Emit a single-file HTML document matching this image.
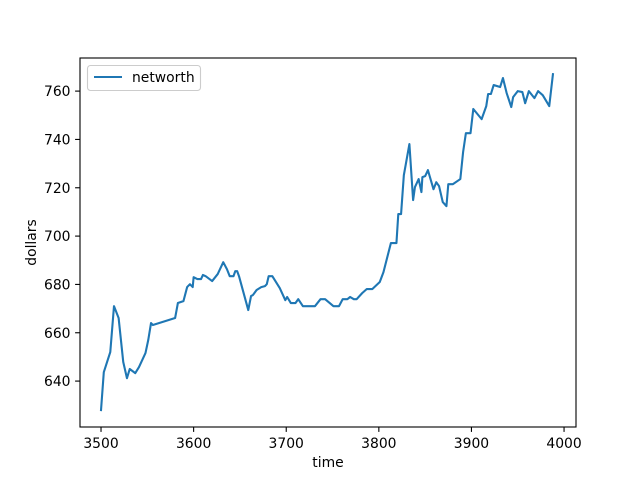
<!DOCTYPE html>
<html><head><meta charset="utf-8"><style>
body{margin:0;background:#fff;}
svg{display:block;font-family:"DejaVu Sans","Liberation Sans",sans-serif;}
</style></head><body>
<svg id="chart" width="640" height="480">
<rect width="640" height="480" fill="#fff"/>
<g id="plot"></g>
<g id="axes"></g>
</svg>
<script>
const times=[3500,3503,3510,3514,3519,3524,3528,3531,3537,3541,3548,3551,3554,3556,3580,3583,3589,3593,3596,3599,3600,3604,3608,3610,3613,3620,3626,3632,3636,3639,3643,3645,3647,3649,3659,3662,3664,3668,3673,3677,3679,3681,3685,3693,3699,3701,3705,3710,3713,3718,3731,3737,3742,3751,3757,3761,3766,3769,3773,3776,3782,3787,3793,3801,3805,3813,3819,3821,3824,3827,3833,3837,3839,3843,3846,3847,3850,3853,3859,3862,3865,3869,3873,3875,3880,3888,3891,3894,3899,3902,3911,3916,3918,3921,3924,3931,3934,3938,3943,3945,3950,3955,3958,3962,3968,3972,3977,3984,3988];
const networth=[628.0,643.7,652.0,671.0,666.1,647.9,641.2,645.0,643.3,645.8,651.6,657.0,664.0,663.2,666.1,672.3,673.1,678.9,680.1,678.9,683.0,682.2,682.2,683.9,683.4,681.4,684.3,689.2,686.3,683.4,683.4,685.5,685.5,683.4,669.4,675.2,675.6,677.7,678.9,679.3,680.1,683.4,683.4,678.5,673.5,674.8,672.3,672.3,673.9,671.0,671.0,673.9,673.9,671.0,671.0,673.9,673.9,674.8,673.9,673.9,676.4,678.1,678.1,681.0,685.1,697.1,697.1,709.1,709.1,725.2,738.1,714.9,720.3,723.6,718.2,724.4,724.8,727.3,719.4,722.3,720.7,714.1,712.4,721.5,721.5,723.6,734.8,742.6,742.6,752.6,748.4,753.8,758.8,758.8,762.5,761.7,765.4,759.2,753.4,757.5,760.0,759.6,755.0,760.0,757.1,760.0,758.3,753.8,767.0];
const xTicks=[3500,3600,3700,3800,3900,4000];
const yTicks=[640,660,680,700,720,740,760];

const L=80,R=576,T=58,B=427;
const xMin=3477.3,xMax=4012.9,yMin=621.0,yMax=773.7;
const sx=v=>L+(v-xMin)/(xMax-xMin)*(R-L);
const sy=v=>B-(v-yMin)/(yMax-yMin)*(B-T);
const NS="http://www.w3.org/2000/svg";
const FS=13.9;
function mk(tag,attrs,parent,text){const e=document.createElementNS(NS,tag);for(const k in attrs)e.setAttribute(k,attrs[k]);if(text!==undefined)e.textContent=text;parent.appendChild(e);return e;}
const plot=document.getElementById('plot'),axes=document.getElementById('axes');

const line=mk('polyline',{points:times.map((t,i)=>sx(t).toFixed(2)+','+sy(networth[i]).toFixed(2)).join(' '),fill:'none',stroke:'#1f77b4','stroke-width':2.1,'stroke-linejoin':'round','stroke-linecap':'square'},plot);



const frame=mk('rect',{x:L,y:T,width:R-L,height:B-T,fill:'none',stroke:'#000','stroke-width':1.1},axes);



xTicks.forEach(v=>{const x=sx(v);
 mk('line',{x1:x,x2:x,y1:B,y2:B+4.9,stroke:'#000','stroke-width':1.1},axes);
 const t=mk('text',{x:x,y:B+21,'text-anchor':'middle','font-size':FS},axes,String(v));
 
 });
yTicks.forEach(v=>{const y=sy(v);
 mk('line',{x1:L-4.9,x2:L,y1:y,y2:y,stroke:'#000','stroke-width':1.1},axes);
 const t=mk('text',{x:L-9.5,y:y+5,'text-anchor':'end','font-size':FS},axes,String(v));
 
 });

const xl=mk('text',{x:(L+R)/2,y:467,'text-anchor':'middle','font-size':FS},axes,'time');


const yl=mk('text',{x:36,y:(T+B)/2,'text-anchor':'middle','font-size':FS,transform:'rotate(-90 36 '+((T+B)/2)+')'},axes,'dollars');



const lg=mk('g',{},axes);


mk('rect',{x:87.5,y:65.5,width:113,height:25,rx:3,fill:'#fff','fill-opacity':0.8,stroke:'#ccc','stroke-width':1.1},lg);
mk('line',{x1:94,x2:122,y1:77,y2:77,stroke:'#1f77b4','stroke-width':2.1},lg);
const le=mk('text',{x:132,y:82,'font-size':FS},lg,'networth');


</script>
</body></html>
